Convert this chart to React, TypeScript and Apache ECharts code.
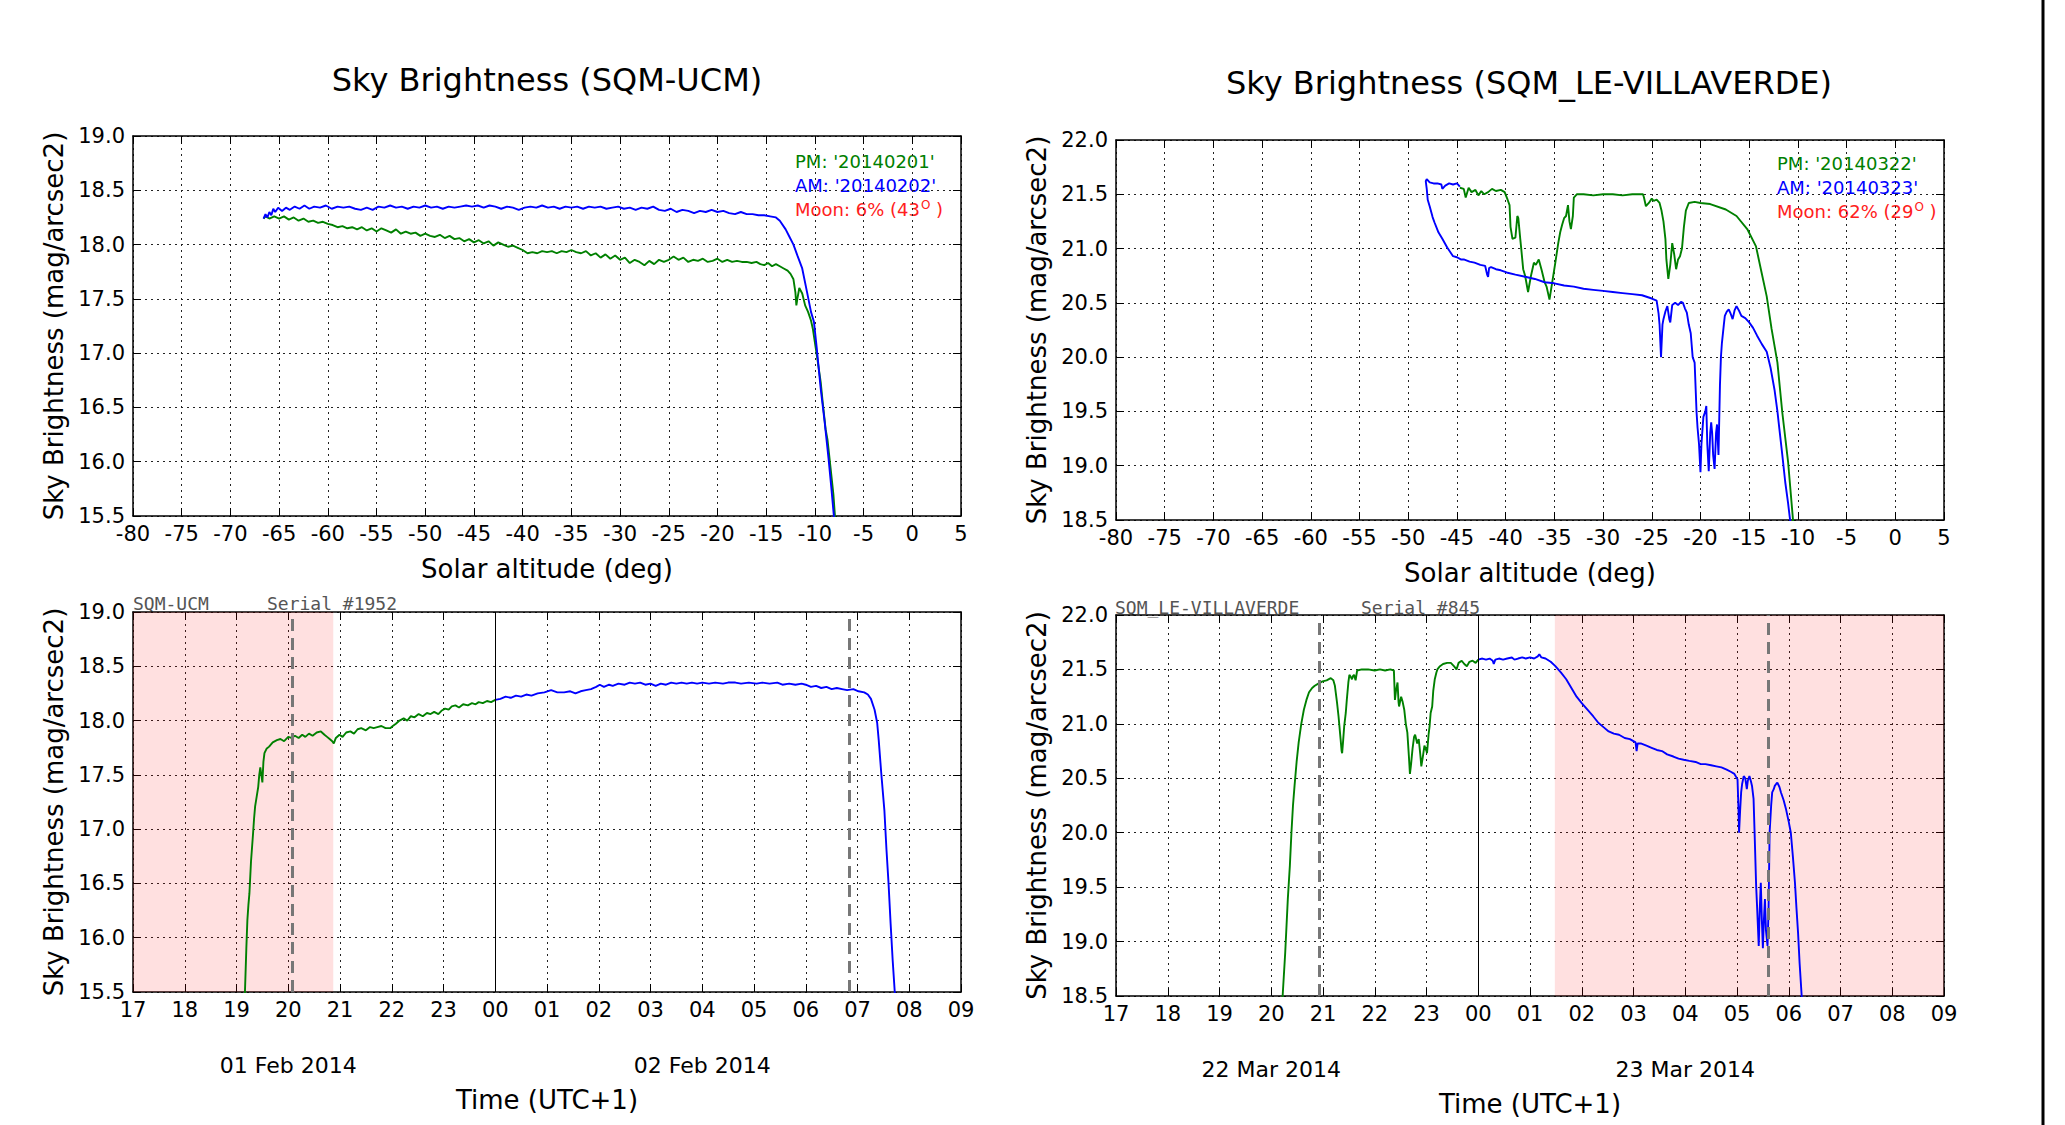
import React, { useEffect, useRef } from 'react';
import * as echarts from 'echarts';

// ---------------- texts ----------------
const titles = ['Sky Brightness (SQM-UCM)', 'Sky Brightness (SQM_LE-VILLAVERDE)'];
const yAxisName = 'Sky Brightness (mag/arcsec2)';
const altAxisName = 'Solar altitude (deg)';
const timeAxisName = 'Time (UTC+1)';

const ucmLegend = ["PM: '20140201'", "AM: '20140202'"];
const ucmMoon = ['6%', '43'];
const villaLegend = ["PM: '20140322'", "AM: '20140323'"];
const villaMoon = ['62%', '29'];

const ucmStation = ['SQM-UCM', 'Serial #1952'];
const villaStation = ['SQM_LE-VILLAVERDE', 'Serial #845'];

const ucmDates: [number, string][] = [[20, '01 Feb 2014'], [28, '02 Feb 2014']];
const villaDates: [number, string][] = [[20, '22 Mar 2014'], [28, '23 Mar 2014']];

// ---------------- axis ranges ----------------
const ucmRange = [15.5, 19.0];
const villaRange = [18.5, 22.0];
const altRange = [-80, 5];
const timeRange = [17, 33]; // hours from 17:00 to 09:00 next day

// ---------------- shading / markers (hours) ----------------
const ucmShade = [17, 20.87];
const villaShade = [25.48, 33];
const ucmDashed = [20.08, 30.84];
const villaDashed = [20.92, 29.61];
const midnight = 24;

// ---------------- SQM-UCM vs solar altitude ----------------
const ucmPmByAlt = [
  [-7.9, 15.45], [-8.1, 15.7], [-8.4, 15.95], [-8.7, 16.2], [-8.9, 16.3], [-9.2, 16.55], [-9.4, 16.73], [-9.7, 16.92],
  [-10.0, 17.1], [-10.2, 17.22], [-10.4, 17.3], [-10.7, 17.38], [-11.0, 17.44], [-11.3, 17.55], [-11.6, 17.6], [-11.8, 17.5],
  [-11.9, 17.44], [-12.0, 17.56], [-12.2, 17.68], [-12.5, 17.73], [-12.8, 17.76], [-13.2, 17.78], [-13.6, 17.8], [-14.0, 17.82],
  [-14.4, 17.8], [-14.8, 17.83], [-15.2, 17.81], [-15.6, 17.82], [-16.0, 17.84], [-16.5, 17.83], [-17.0, 17.84], [-17.5, 17.84],
  [-18.0, 17.85], [-18.5, 17.84], [-19.0, 17.86], [-19.5, 17.84], [-20.0, 17.87], [-20.5, 17.85], [-21.0, 17.84], [-21.5, 17.87],
  [-22.0, 17.85], [-22.5, 17.86], [-23.0, 17.84], [-23.5, 17.88], [-24.0, 17.86], [-24.5, 17.89], [-25.0, 17.86], [-25.5, 17.84],
  [-26.0, 17.86], [-26.5, 17.82], [-27.0, 17.85], [-27.5, 17.81], [-28.0, 17.84], [-28.5, 17.86], [-29.0, 17.83], [-29.5, 17.88],
  [-30.0, 17.86], [-30.5, 17.9], [-31.0, 17.87], [-31.5, 17.91], [-32.0, 17.88], [-32.5, 17.92], [-33.0, 17.9], [-33.5, 17.94],
  [-34.0, 17.92], [-34.5, 17.93], [-35.0, 17.95], [-35.5, 17.93], [-36.0, 17.94], [-36.5, 17.92], [-37.0, 17.94], [-37.5, 17.93],
  [-38.0, 17.94], [-38.5, 17.92], [-39.0, 17.93], [-39.5, 17.92], [-40.0, 17.95], [-40.5, 17.97], [-41.0, 17.99], [-41.5, 17.98],
  [-42.0, 18.0], [-42.5, 18.02], [-43.0, 17.99], [-43.5, 18.03], [-44.0, 18.01], [-44.5, 18.04], [-45.0, 18.02], [-45.5, 18.05],
  [-46.0, 18.03], [-46.5, 18.06], [-47.0, 18.05], [-47.5, 18.08], [-48.0, 18.06], [-48.5, 18.09], [-49.0, 18.07], [-49.5, 18.08],
  [-50.0, 18.1], [-50.5, 18.08], [-51.0, 18.11], [-51.5, 18.1], [-52.0, 18.12], [-52.5, 18.1], [-53.0, 18.14], [-53.5, 18.11],
  [-54.0, 18.13], [-54.5, 18.15], [-55.0, 18.12], [-55.5, 18.15], [-56.0, 18.13], [-56.5, 18.16], [-57.0, 18.14], [-57.5, 18.16],
  [-58.0, 18.15], [-58.5, 18.17], [-59.0, 18.16], [-59.5, 18.18], [-60.0, 18.19], [-60.5, 18.21], [-61.0, 18.2], [-61.5, 18.22],
  [-62.0, 18.21], [-62.5, 18.24], [-63.0, 18.22], [-63.5, 18.25], [-64.0, 18.23], [-64.5, 18.26], [-65.0, 18.24], [-65.5, 18.26],
  [-66.0, 18.24], [-66.4, 18.26], [-66.6, 18.24],
];
const ucmAmByAlt = [
  [-66.6, 18.24], [-66.4, 18.28], [-66.2, 18.25], [-66.0, 18.3], [-65.8, 18.27], [-65.6, 18.33], [-65.4, 18.3], [-65.1, 18.34],
  [-64.7, 18.31], [-64.3, 18.34], [-63.9, 18.32], [-63.4, 18.35], [-62.9, 18.33], [-62.4, 18.36], [-61.9, 18.33], [-61.4, 18.35],
  [-60.8, 18.34], [-60.2, 18.36], [-59.6, 18.33], [-59.0, 18.35], [-58.4, 18.34], [-57.8, 18.35], [-57.2, 18.33], [-56.6, 18.32],
  [-56.0, 18.34], [-55.4, 18.32], [-54.8, 18.35], [-54.2, 18.34], [-53.6, 18.36], [-53.0, 18.34], [-52.4, 18.35], [-51.8, 18.33],
  [-51.2, 18.35], [-50.6, 18.34], [-50.0, 18.36], [-49.4, 18.34], [-48.8, 18.35], [-48.2, 18.33], [-47.6, 18.35], [-47.0, 18.34],
  [-46.4, 18.35], [-45.8, 18.36], [-45.2, 18.35], [-44.6, 18.36], [-44.0, 18.34], [-43.4, 18.36], [-42.8, 18.35], [-42.2, 18.33],
  [-41.6, 18.35], [-41.0, 18.34], [-40.4, 18.32], [-39.8, 18.34], [-39.2, 18.35], [-38.6, 18.34], [-38.0, 18.36], [-37.4, 18.34],
  [-36.8, 18.35], [-36.2, 18.33], [-35.6, 18.35], [-35.0, 18.34], [-34.4, 18.35], [-33.8, 18.33], [-33.2, 18.35], [-32.6, 18.34],
  [-32.0, 18.35], [-31.4, 18.33], [-30.8, 18.34], [-30.2, 18.35], [-29.6, 18.33], [-29.0, 18.34], [-28.4, 18.32], [-27.8, 18.34],
  [-27.2, 18.33], [-26.6, 18.35], [-26.0, 18.32], [-25.4, 18.31], [-24.8, 18.33], [-24.2, 18.3], [-23.6, 18.32], [-23.0, 18.31],
  [-22.4, 18.29], [-21.8, 18.31], [-21.2, 18.3], [-20.6, 18.32], [-20.0, 18.3], [-19.4, 18.31], [-18.8, 18.29], [-18.2, 18.28],
  [-17.6, 18.3], [-17.0, 18.28], [-16.4, 18.28], [-15.8, 18.27], [-15.2, 18.27], [-14.6, 18.26], [-14.0, 18.25], [-13.6, 18.22],
  [-13.0, 18.14], [-12.6, 18.07], [-12.2, 18.0], [-11.8, 17.9], [-11.3, 17.78], [-10.8, 17.56], [-10.4, 17.38], [-10.1, 17.29],
  [-9.8, 17.04], [-9.4, 16.67], [-9.0, 16.37], [-8.6, 16.03], [-8.3, 15.75], [-8.0, 15.45],
];

// ---------------- SQM-UCM vs time (hours after 00:00 of 01 Feb) ----------------
const ucmPmByTime = [
  [19.16, 15.45], [19.19, 15.9], [19.21, 16.16], [19.23, 16.3], [19.25, 16.41], [19.28, 16.7], [19.32, 16.96], [19.34, 17.1],
  [19.36, 17.21], [19.39, 17.3], [19.42, 17.39], [19.44, 17.5], [19.46, 17.57], [19.48, 17.5], [19.5, 17.43], [19.52, 17.62],
  [19.54, 17.7], [19.58, 17.74], [19.63, 17.76], [19.7, 17.8], [19.78, 17.82], [19.85, 17.83], [19.92, 17.81], [20.0, 17.85],
  [20.06, 17.84], [20.13, 17.86], [20.2, 17.84], [20.27, 17.87], [20.33, 17.85], [20.4, 17.88], [20.47, 17.86], [20.55, 17.89],
  [20.63, 17.9], [20.7, 17.87], [20.75, 17.85], [20.8, 17.83], [20.85, 17.81], [20.88, 17.79], [20.92, 17.84], [20.99, 17.87],
  [21.05, 17.85], [21.12, 17.89], [21.2, 17.9], [21.27, 17.88], [21.34, 17.92], [21.41, 17.93], [21.5, 17.91], [21.58, 17.94],
  [21.65, 17.93], [21.72, 17.94], [21.8, 17.95], [21.88, 17.93], [21.97, 17.93], [22.02, 17.95], [22.08, 17.97], [22.15, 18.0],
  [22.23, 18.02], [22.3, 18.0], [22.37, 18.04], [22.44, 18.03], [22.52, 18.06], [22.6, 18.04], [22.68, 18.07], [22.75, 18.06],
  [22.82, 18.08], [22.9, 18.06], [22.96, 18.09], [23.03, 18.11], [23.1, 18.1], [23.16, 18.13], [23.23, 18.14], [23.3, 18.12],
  [23.38, 18.15], [23.47, 18.14], [23.55, 18.16], [23.62, 18.15], [23.68, 18.17], [23.76, 18.16], [23.84, 18.18], [23.92, 18.17],
  [24.0, 18.19],
];
const ucmAmByTime = [
  [24.0, 18.19], [24.1, 18.2], [24.2, 18.22], [24.3, 18.21], [24.4, 18.23], [24.5, 18.22], [24.6, 18.24], [24.7, 18.23],
  [24.82, 18.25], [24.95, 18.26], [25.08, 18.28], [25.2, 18.26], [25.33, 18.26], [25.45, 18.27], [25.55, 18.25], [25.65, 18.27],
  [25.75, 18.28], [25.85, 18.29], [25.95, 18.31], [26.02, 18.33], [26.1, 18.31], [26.2, 18.33], [26.27, 18.32], [26.38, 18.34],
  [26.5, 18.33], [26.6, 18.35], [26.7, 18.34], [26.8, 18.35], [26.9, 18.33], [27.0, 18.34], [27.1, 18.32], [27.2, 18.34],
  [27.3, 18.33], [27.4, 18.35], [27.5, 18.34], [27.6, 18.35], [27.7, 18.34], [27.8, 18.35], [27.9, 18.34], [28.0, 18.35],
  [28.13, 18.34], [28.25, 18.35], [28.4, 18.34], [28.5, 18.35], [28.64, 18.35], [28.75, 18.34], [28.9, 18.35], [29.05, 18.34],
  [29.16, 18.35], [29.3, 18.34], [29.45, 18.35], [29.55, 18.33], [29.68, 18.34], [29.8, 18.33], [29.92, 18.34], [30.0, 18.33],
  [30.1, 18.31], [30.2, 18.32], [30.3, 18.3], [30.4, 18.31], [30.5, 18.29], [30.6, 18.3], [30.7, 18.29], [30.8, 18.28],
  [30.92, 18.29], [31.02, 18.27], [31.13, 18.26], [31.2, 18.24], [31.26, 18.2], [31.33, 18.1], [31.38, 17.98], [31.41, 17.82],
  [31.46, 17.51], [31.52, 17.17], [31.56, 16.81], [31.6, 16.5], [31.64, 16.13], [31.68, 15.79], [31.72, 15.5], [31.74, 15.4],
];

// ---------------- SQM_LE-VILLAVERDE vs solar altitude ----------------
const villaPmByAlt = [
  [-10.4, 18.45], [-10.5, 18.5], [-11.0, 19.03], [-11.6, 19.49], [-12.1, 19.95], [-12.7, 20.26], [-13.2, 20.56], [-13.8, 20.81],
  [-14.3, 21.02], [-15.2, 21.18], [-16.3, 21.3], [-17.4, 21.36], [-19.0, 21.41], [-20.0, 21.42], [-20.6, 21.43], [-21.2, 21.42],
  [-21.5, 21.35], [-21.7, 21.2], [-21.9, 21.0], [-22.1, 20.93], [-22.3, 20.9], [-22.5, 20.81], [-22.7, 20.95], [-22.9, 21.05],
  [-23.1, 20.85], [-23.3, 20.72], [-23.5, 20.9], [-23.6, 21.09], [-23.8, 21.25], [-24.0, 21.35], [-24.2, 21.42], [-24.5, 21.45],
  [-24.8, 21.44], [-25.0, 21.46], [-25.3, 21.42], [-25.6, 21.39], [-25.8, 21.47], [-25.9, 21.5], [-27.0, 21.5], [-28.0, 21.49],
  [-29.0, 21.5], [-30.0, 21.5], [-31.0, 21.49], [-32.0, 21.5], [-32.7, 21.5], [-33.0, 21.47], [-33.1, 21.3], [-33.3, 21.18],
  [-33.45, 21.25], [-33.6, 21.4], [-33.8, 21.3], [-34.0, 21.28], [-34.2, 21.22], [-34.4, 21.15], [-34.6, 21.05], [-34.9, 20.87],
  [-35.2, 20.7], [-35.5, 20.53], [-35.8, 20.65], [-36.0, 20.69], [-36.3, 20.8], [-36.6, 20.9], [-36.9, 20.85], [-37.1, 20.87],
  [-37.4, 20.75], [-37.7, 20.6], [-38.0, 20.75], [-38.2, 20.81], [-38.4, 21.0], [-38.5, 21.09], [-38.7, 21.28], [-38.8, 21.3],
  [-39.0, 21.1], [-39.3, 21.09], [-39.5, 21.2], [-39.6, 21.4], [-39.8, 21.45], [-40.1, 21.52], [-40.5, 21.54], [-41.0, 21.53],
  [-41.4, 21.55], [-41.8, 21.52], [-42.2, 21.5], [-42.5, 21.53], [-42.8, 21.49], [-43.1, 21.54], [-43.5, 21.52], [-43.8, 21.56],
  [-44.1, 21.47], [-44.3, 21.55], [-44.7, 21.56],
];
const villaAmByAlt = [
  [-44.7, 21.57], [-45.0, 21.6], [-45.4, 21.59], [-45.8, 21.6], [-46.2, 21.58], [-46.5, 21.55], [-46.6, 21.59], [-47.0, 21.6],
  [-47.4, 21.6], [-47.8, 21.61], [-48.1, 21.64], [-48.2, 21.62], [-48.1, 21.55], [-48.0, 21.45], [-47.8, 21.39], [-47.5, 21.29],
  [-47.3, 21.24], [-46.9, 21.15], [-46.5, 21.09], [-46.0, 21.01], [-45.4, 20.93], [-45.0, 20.92], [-44.6, 20.9], [-44.3, 20.9],
  [-43.7, 20.88], [-43.2, 20.87], [-42.6, 20.85], [-42.1, 20.84], [-41.9, 20.76], [-41.8, 20.74], [-41.7, 20.82], [-41.5, 20.83],
  [-41.0, 20.81], [-40.5, 20.8], [-39.9, 20.78], [-39.0, 20.76], [-38.0, 20.74], [-37.0, 20.72], [-36.0, 20.69], [-35.0, 20.68],
  [-34.0, 20.66], [-33.0, 20.65], [-32.0, 20.63], [-31.0, 20.62], [-30.0, 20.61], [-29.0, 20.6], [-28.0, 20.59], [-27.0, 20.58],
  [-26.0, 20.57], [-25.0, 20.54], [-24.5, 20.52], [-24.3, 20.4], [-24.2, 20.3], [-24.05, 20.0], [-23.9, 20.3], [-23.8, 20.35],
  [-23.6, 20.42], [-23.4, 20.47], [-23.2, 20.35], [-23.1, 20.32], [-22.9, 20.48], [-22.6, 20.5], [-22.3, 20.48], [-22.0, 20.51],
  [-21.8, 20.5], [-21.6, 20.45], [-21.4, 20.41], [-21.2, 20.3], [-21.0, 20.22], [-20.8, 20.0], [-20.6, 19.95], [-20.4, 19.49],
  [-20.3, 19.35], [-20.15, 19.2], [-20.0, 18.94], [-19.9, 19.2], [-19.7, 19.45], [-19.5, 19.5], [-19.4, 19.55], [-19.3, 19.2],
  [-19.15, 18.95], [-19.0, 19.3], [-18.9, 19.4], [-18.8, 19.3], [-18.7, 19.1], [-18.55, 18.97], [-18.4, 19.3], [-18.3, 19.38],
  [-18.15, 19.1], [-18.0, 19.74], [-17.9, 20.0], [-17.8, 20.13], [-17.6, 20.3], [-17.5, 20.38], [-17.3, 20.42], [-17.1, 20.44],
  [-16.9, 20.4], [-16.7, 20.35], [-16.5, 20.43], [-16.3, 20.47], [-16.0, 20.42], [-15.8, 20.38], [-15.4, 20.36], [-15.0, 20.32],
  [-14.6, 20.27], [-14.2, 20.2], [-13.7, 20.12], [-13.2, 20.05], [-12.8, 19.9], [-12.4, 19.7], [-12.1, 19.5], [-11.9, 19.34],
  [-11.6, 19.1], [-11.3, 18.85], [-11.0, 18.65], [-10.8, 18.5], [-10.75, 18.45],
];

// ---------------- SQM_LE-VILLAVERDE vs time ----------------
const villaPmByTime = [
  [20.2, 18.45], [20.22, 18.5], [20.27, 18.9], [20.32, 19.39], [20.36, 19.7], [20.39, 20.0], [20.42, 20.25], [20.45, 20.43],
  [20.49, 20.65], [20.53, 20.83], [20.58, 21.0], [20.63, 21.13], [20.68, 21.22], [20.73, 21.29], [20.79, 21.33], [20.84, 21.35],
  [20.91, 21.37], [20.99, 21.39], [21.07, 21.4], [21.15, 21.42], [21.2, 21.4], [21.23, 21.35], [21.27, 21.2], [21.3, 21.07],
  [21.34, 20.86], [21.36, 20.75], [21.37, 20.73], [21.39, 20.85], [21.41, 20.98], [21.44, 21.1], [21.46, 21.22], [21.49, 21.38],
  [21.51, 21.45], [21.54, 21.43], [21.56, 21.41], [21.58, 21.44], [21.6, 21.45], [21.63, 21.4], [21.66, 21.49], [21.75, 21.5],
  [21.87, 21.5], [22.0, 21.49], [22.1, 21.5], [22.2, 21.49], [22.3, 21.5], [22.37, 21.49], [22.39, 21.22], [22.41, 21.3],
  [22.44, 21.38], [22.46, 21.2], [22.47, 21.16], [22.51, 21.25], [22.54, 21.2], [22.57, 21.13], [22.6, 21.0], [22.63, 20.92],
  [22.66, 20.7], [22.68, 20.54], [22.7, 20.62], [22.73, 20.77], [22.76, 20.88], [22.78, 20.9], [22.82, 20.82], [22.85, 20.86],
  [22.88, 20.72], [22.9, 20.61], [22.93, 20.7], [22.96, 20.8], [23.0, 20.75], [23.01, 20.73], [23.04, 20.9], [23.06, 20.98],
  [23.08, 21.1], [23.11, 21.16], [23.13, 21.3], [23.16, 21.41], [23.19, 21.47], [23.21, 21.5], [23.26, 21.53], [23.32, 21.55],
  [23.4, 21.56], [23.47, 21.56], [23.53, 21.53], [23.58, 21.5], [23.62, 21.56], [23.68, 21.58], [23.73, 21.55], [23.78, 21.53],
  [23.83, 21.57], [23.89, 21.58], [23.95, 21.56], [24.0, 21.59],
];
const villaAmByTime = [
  [24.0, 21.59], [24.08, 21.6], [24.15, 21.59], [24.22, 21.6], [24.28, 21.58], [24.3, 21.55], [24.33, 21.59], [24.4, 21.6],
  [24.48, 21.59], [24.56, 21.6], [24.65, 21.61], [24.7, 21.59], [24.77, 21.6], [24.85, 21.61], [24.92, 21.6], [25.0, 21.61],
  [25.08, 21.6], [25.15, 21.62], [25.18, 21.64], [25.22, 21.61], [25.3, 21.6], [25.4, 21.57], [25.49, 21.53], [25.6, 21.47],
  [25.7, 21.41], [25.8, 21.33], [25.9, 21.25], [26.0, 21.19], [26.11, 21.13], [26.22, 21.07], [26.32, 21.01], [26.42, 20.97],
  [26.52, 20.93], [26.62, 20.91], [26.72, 20.9], [26.83, 20.87], [26.93, 20.86], [27.04, 20.83], [27.06, 20.75], [27.08, 20.82],
  [27.14, 20.82], [27.25, 20.8], [27.35, 20.78], [27.45, 20.76], [27.55, 20.75], [27.65, 20.72], [27.77, 20.7], [27.87, 20.68],
  [27.97, 20.67], [28.08, 20.66], [28.2, 20.65], [28.3, 20.63], [28.39, 20.63], [28.5, 20.62], [28.6, 20.61], [28.7, 20.6],
  [28.8, 20.58], [28.88, 20.56], [28.95, 20.54], [29.01, 20.49], [29.03, 20.2], [29.04, 20.0], [29.06, 20.2], [29.08, 20.37],
  [29.1, 20.45], [29.13, 20.52], [29.16, 20.5], [29.19, 20.4], [29.21, 20.48], [29.24, 20.52], [29.27, 20.47], [29.29, 20.43],
  [29.32, 20.31], [29.34, 20.0], [29.37, 19.51], [29.39, 19.3], [29.42, 18.96], [29.44, 19.3], [29.46, 19.54], [29.48, 19.2],
  [29.5, 18.94], [29.52, 19.2], [29.54, 19.39], [29.56, 19.1], [29.59, 18.96], [29.61, 19.3], [29.63, 20.0], [29.66, 20.25],
  [29.68, 20.37], [29.71, 20.4], [29.73, 20.43], [29.76, 20.45], [29.78, 20.46], [29.82, 20.42], [29.85, 20.37], [29.9, 20.3],
  [29.95, 20.21], [30.0, 20.1], [30.04, 20.0], [30.08, 19.78], [30.12, 19.54], [30.15, 19.3], [30.18, 19.08], [30.21, 18.8],
  [30.25, 18.5], [30.27, 18.4],
];

// ---------------- styling ----------------
const FONT = 'DejaVu Sans';
const MONO = 'DejaVu Sans Mono';
const GREEN = '#008000';
const BLUE = '#0000ff';
const RED = '#ff2020';

const grids = [
  { left: 133, top: 136, width: 828, height: 380 },
  { left: 1116, top: 140, width: 828, height: 380 },
  { left: 133, top: 612, width: 828, height: 380 },
  { left: 1116, top: 615, width: 828, height: 381 },
];

const frameLine = { show: true, onZero: false, lineStyle: { color: '#000', width: 1.5 } };
const tickStyle = { show: true, inside: true, length: 8, lineStyle: { color: '#000', width: 1 } };
const gridLine = { show: true, lineStyle: { color: '#222', width: 1, type: [2, 4] } };
const tickFont = { fontFamily: FONT, fontSize: 21, color: '#000' };
const nameFont = { fontFamily: FONT, fontSize: 26, color: '#000' };

const pad2 = (v: number) => String(((v % 24) + 24) % 24).padStart(2, '0');

function mainX(gridIndex: number, range: number[], interval: number, formatter: any, name: string, nameGap: number) {
  return {
    type: 'value', gridIndex, position: 'bottom', min: range[0], max: range[1], interval,
    axisLine: frameLine, axisTick: tickStyle, splitLine: gridLine,
    axisLabel: { ...tickFont, margin: 7, formatter, showMinLabel: true, showMaxLabel: true },
    name, nameLocation: 'middle', nameGap, nameTextStyle: nameFont,
  };
}
function topX(gridIndex: number, range: number[], interval: number) {
  return {
    type: 'value', gridIndex, position: 'top', min: range[0], max: range[1], interval,
    axisLine: frameLine, axisTick: tickStyle, splitLine: { show: false }, axisLabel: { show: false },
  };
}
function dateX(gridIndex: number, dates: [number, string][]) {
  return {
    type: 'value', gridIndex, position: 'bottom', min: timeRange[0], max: timeRange[1], interval: 1,
    axisLine: { show: false }, axisTick: { show: false }, splitLine: { show: false },
    axisLabel: {
      fontFamily: FONT, fontSize: 22, color: '#000', margin: 62,
      formatter: (v: number) => { const d = dates.find((x) => x[0] === v); return d ? d[1] : ''; },
    },
  };
}
function mainY(gridIndex: number, range: number[]) {
  return {
    type: 'value', gridIndex, position: 'left', min: range[0], max: range[1], interval: 0.5,
    axisLine: frameLine, axisTick: tickStyle, splitLine: gridLine,
    axisLabel: { ...tickFont, margin: 8, formatter: (v: number) => v.toFixed(1) },
    name: yAxisName, nameLocation: 'middle', nameGap: 66, nameTextStyle: nameFont,
  };
}
function rightY(gridIndex: number, range: number[]) {
  return {
    type: 'value', gridIndex, position: 'right', min: range[0], max: range[1], interval: 0.5,
    axisLine: frameLine, axisTick: tickStyle, splitLine: { show: false }, axisLabel: { show: false },
  };
}
function line(data: number[][], color: string, xAxisIndex: number, yAxisIndex: number, extra: any = {}) {
  return {
    type: 'line', data, xAxisIndex, yAxisIndex, showSymbol: false, symbol: 'none', smooth: false,
    lineStyle: { color, width: 1.9 }, itemStyle: { color }, z: 3, ...extra,
  };
}
function marks(shade: number[], dashed: number[]) {
  return {
    markArea: {
      silent: true, itemStyle: { color: 'rgba(255,0,0,0.12)' },
      data: [[{ xAxis: shade[0] }, { xAxis: shade[1] }]],
    },
    markLine: {
      silent: true, symbol: ['none', 'none'], label: { show: false },
      data: [
        { xAxis: midnight, lineStyle: { color: '#000', width: 1, type: 'solid' } },
        ...dashed.map((v) => ({ xAxis: v, lineStyle: { color: '#777', width: 3, type: [12, 7] } })),
      ],
    },
  };
}

function legendTexts(x: number, y: number, legend: string[], moon: string[]) {
  const base = { fontFamily: FONT, fontSize: 18, align: 'left', verticalAlign: 'middle' };
  return [
    { type: 'text', x, y, style: { ...base, text: legend[0], fill: GREEN } },
    { type: 'text', x, y: y + 24, style: { ...base, text: legend[1], fill: BLUE } },
    {
      type: 'text', x, y: y + 48,
      style: {
        ...base, text: `Moon: ${moon[0]} (${moon[1]}{s|O} )`, fill: RED,
        rich: { s: { fontSize: 12, fontFamily: FONT, fill: RED, verticalAlign: 'top', padding: [0, 0, 8, 1] } },
      },
    },
  ];
}
function stationTexts(x1: number, x2: number, y: number, st: string[]) {
  const base = { fontFamily: MONO, fontSize: 18, fill: '#555', align: 'left', verticalAlign: 'middle' };
  return [
    { type: 'text', x: x1, y, style: { ...base, text: st[0] } },
    { type: 'text', x: x2, y, style: { ...base, text: st[1] } },
  ];
}

function buildOption() {
  const altFmt = (v: number) => String(v);
  return {
    animation: false,
    backgroundColor: '#fff',
    grid: grids.map((g) => ({ ...g, containLabel: false })),
    xAxis: [
      mainX(0, altRange, 5, altFmt, altAxisName, 40), // 0
      topX(0, altRange, 5), // 1
      mainX(1, altRange, 5, altFmt, altAxisName, 40), // 2
      topX(1, altRange, 5), // 3
      mainX(2, timeRange, 1, pad2, timeAxisName, 95), // 4
      topX(2, timeRange, 1), // 5
      dateX(2, ucmDates), // 6
      mainX(3, timeRange, 1, pad2, timeAxisName, 95), // 7
      topX(3, timeRange, 1), // 8
      dateX(3, villaDates), // 9
    ],
    yAxis: [
      mainY(0, ucmRange), rightY(0, ucmRange),
      mainY(1, villaRange), rightY(1, villaRange),
      mainY(2, ucmRange), rightY(2, ucmRange),
      mainY(3, villaRange), rightY(3, villaRange),
    ],
    series: [
      line(ucmPmByAlt, GREEN, 0, 0),
      line(ucmAmByAlt, BLUE, 0, 0),
      line(villaPmByAlt, GREEN, 2, 2),
      line(villaAmByAlt, BLUE, 2, 2),
      line(ucmPmByTime, GREEN, 4, 4, marks(ucmShade, ucmDashed)),
      line(ucmAmByTime, BLUE, 4, 4),
      line(villaPmByTime, GREEN, 7, 6, marks(villaShade, villaDashed)),
      line(villaAmByTime, BLUE, 7, 6),
    ],
    graphic: [
      { type: 'text', x: 547, y: 80, style: { text: titles[0], fontFamily: FONT, fontSize: 32, fill: '#000', align: 'center', verticalAlign: 'middle' } },
      { type: 'text', x: 1529, y: 83, style: { text: titles[1], fontFamily: FONT, fontSize: 32, fill: '#000', align: 'center', verticalAlign: 'middle' } },
      ...legendTexts(795, 161, ucmLegend, ucmMoon),
      ...legendTexts(1777, 163, villaLegend, villaMoon),
      ...stationTexts(133, 267, 603, ucmStation),
      ...stationTexts(1115, 1361, 607, villaStation),
      { type: 'line', shape: { x1: 2043, y1: 0, x2: 2043, y2: 1125 }, style: { stroke: '#000', lineWidth: 3 } },
    ],
  };
}

export default function App() {
  const ref = useRef<HTMLDivElement>(null);
  useEffect(() => {
    if (!ref.current) return;
    const chart = echarts.init(ref.current, undefined, { renderer: 'svg' });
    chart.setOption(buildOption() as any);
    return () => chart.dispose();
  }, []);
  return (
    <div
      ref={ref}
      style={{ position: 'absolute', left: 0, top: 0, width: 2065, height: 1125, background: '#fff' }}
    />
  );
}
